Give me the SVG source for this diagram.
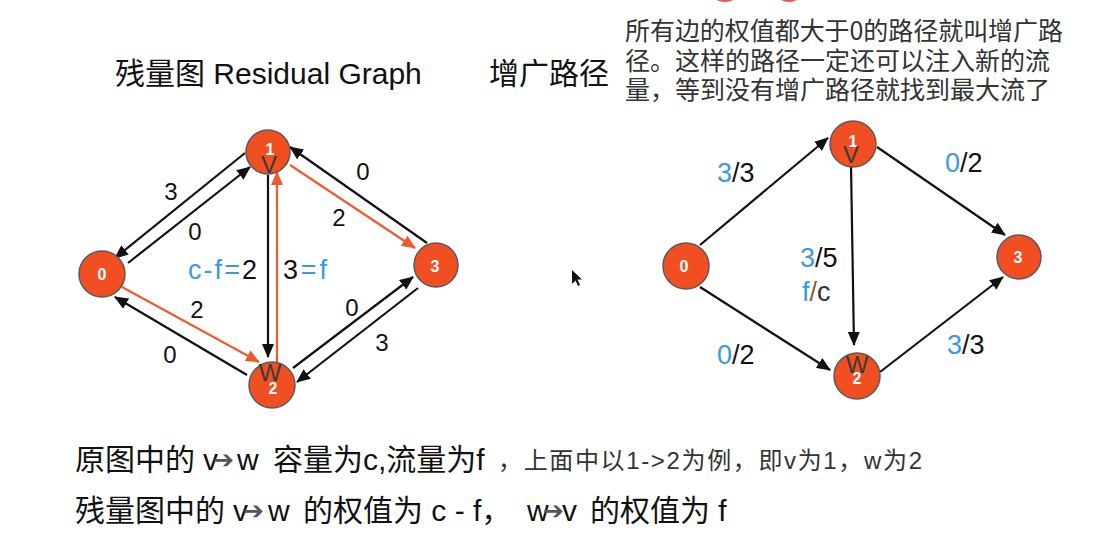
<svg xmlns="http://www.w3.org/2000/svg" width="1093" height="541" viewBox="0 0 1093 541">
<style>
.t{font-family:"Liberation Sans","Noto Sans CJK SC",sans-serif;fill:#111}
.cjk{font-family:"Liberation Sans","Noto Sans CJK SC",sans-serif;fill:#111}
.desc{font-family:"Noto Sans CJK SC",sans-serif;font-size:25px;fill:#333}
.lbl{font-family:"Liberation Sans",sans-serif;font-size:24px;fill:#111;text-anchor:middle}
.rl{font-family:"Liberation Sans",sans-serif;font-size:27px;fill:#111}
.blue{fill:#3b97e8}
.node{fill:#f14f22;stroke:#5a5a5a;stroke-width:1.5}
.nl{font-family:"Liberation Sans",sans-serif;font-size:16px;font-weight:bold;fill:#fff;text-anchor:middle}
.vw{font-family:"Liberation Sans",sans-serif;font-size:24px;fill:#3a3a3a;text-anchor:middle}
.e{stroke:#111;stroke-width:2.2;fill:none;marker-end:url(#ab)}
.o{stroke:#ef5a2c;stroke-width:2.2;fill:none;marker-end:url(#ao)}
.arr{font-family:"DejaVu Sans",sans-serif;font-size:25px;font-weight:bold;fill:#555}
</style>
<defs>
<marker id="ab" markerUnits="userSpaceOnUse" markerWidth="14" markerHeight="12" refX="13" refY="6" orient="auto"><path d="M0,0 L14,6 L0,12 z" fill="#111"/></marker>
<marker id="ao" markerUnits="userSpaceOnUse" markerWidth="14" markerHeight="12" refX="13" refY="6" orient="auto"><path d="M0,0 L14,6 L0,12 z" fill="#ef5a2c"/></marker>
</defs>
<rect width="1093" height="541" fill="#fff"/>
<ellipse cx="725" cy="-8" rx="14" ry="10" fill="#e05a4a"/>
<ellipse cx="789" cy="-8" rx="13" ry="10" fill="#e05a4a"/>

<text class="cjk" x="115" y="84" font-size="30">残量图 Residual Graph</text>
<text class="cjk" x="489" y="84" font-size="30">增广路径</text>
<text class="desc" x="625" y="40" textLength="438" lengthAdjust="spacing">所有边的权值都大于0的路径就叫增广路</text>
<text class="desc" x="625" y="70">径。这样的路径一定还可以注入新的流</text>
<text class="desc" x="625" y="99">量，等到没有增广路径就找到最大流了</text>

<g id="connectors">
<line class="e" x1="245" y1="153" x2="115" y2="258"/>
<line class="e" x1="128" y1="263" x2="250" y2="167"/>
<line class="o" x1="290" y1="165" x2="415" y2="248"/>
<line class="e" x1="427" y1="243" x2="290" y2="147"/>
<line class="e" x1="268" y1="175" x2="268" y2="357"/>
<line class="o" x1="277" y1="362" x2="277" y2="172"/>
<line class="o" x1="122" y1="287" x2="259" y2="362"/>
<line class="e" x1="247" y1="375" x2="115" y2="297"/>
<line class="e" x1="293" y1="368" x2="413" y2="277"/>
<line class="e" x1="418" y1="288" x2="297" y2="382"/>
<line class="e" x1="700" y1="245" x2="828" y2="138"/>
<line class="e" x1="877" y1="147" x2="1005" y2="235"/>
<line class="e" x1="851" y1="165" x2="854" y2="345"/>
<line class="e" x1="700" y1="287" x2="830" y2="370"/>
<line class="e" x1="880" y1="372" x2="1003" y2="277"/>
</g>

<g id="edge-labels-left">
<text class="lbl" x="171" y="200">3</text>
<text class="lbl" x="195" y="240">0</text>
<text class="lbl" x="363" y="180">0</text>
<text class="lbl" x="339" y="226">2</text>
<text class="lbl" x="197" y="318">2</text>
<text class="lbl" x="170" y="363">0</text>
<text class="lbl" x="352" y="316">0</text>
<text class="lbl" x="382" y="351">3</text>
<text class="t" x="188" y="279" font-size="27" textLength="69" lengthAdjust="spacing"><tspan class="blue">c-f=</tspan>2</text>
<text class="t" x="283" y="279" font-size="27" textLength="44" lengthAdjust="spacing">3<tspan class="blue">=f</tspan></text>
</g>

<g id="edge-labels-right">
<text class="rl" x="717" y="182"><tspan class="blue">3</tspan>/3</text>
<text class="rl" x="945" y="172"><tspan class="blue">0</tspan>/2</text>
<text class="rl" x="800" y="267"><tspan class="blue">3</tspan>/5</text>
<text class="rl" x="802" y="301"><tspan class="blue">f</tspan><tspan fill="#8a5a2a">/</tspan><tspan fill="#333">c</tspan></text>
<text class="rl" x="717" y="364"><tspan class="blue">0</tspan>/2</text>
<text class="rl" x="947" y="354"><tspan class="blue">3</tspan>/3</text>
</g>

<g id="L0"><circle class="node" cx="102" cy="274" r="23"/><text class="nl" x="102" y="280">0</text></g>
<g id="L1"><circle class="node" cx="268" cy="152" r="22"/><text class="nl" x="270" y="155">1</text><text class="vw" x="269" y="173">V</text></g>
<g id="L2"><circle class="node" cx="272" cy="385" r="23"/><text class="nl" x="273" y="394">2</text><text class="vw" x="270" y="381">W</text></g>
<g id="L3"><circle class="node" cx="436" cy="265" r="22"/><text class="nl" x="435" y="272">3</text></g>

<g id="R0"><circle class="node" cx="686" cy="266" r="23"/><text class="nl" x="684" y="272">0</text></g>
<g id="R1"><circle class="node" cx="853" cy="144" r="23"/><text class="nl" x="853" y="147">1</text><text class="vw" x="851" y="163">V</text></g>
<g id="R2"><circle class="node" cx="857" cy="376" r="23"/><text class="nl" x="857" y="384">2</text><text class="vw" x="857" y="373">W</text></g>
<g id="R3"><circle class="node" cx="1019" cy="257" r="22"/><text class="nl" x="1018" y="263">3</text></g>

<path d="M572,270 L572,284 L575.5,280.5 L578,286 L580,285 L577.5,279.5 L582,279.5 z" fill="#111"/>

<g id="bottom-text">
<text class="cjk" x="75" y="470" font-size="30">原图中的</text>
<text class="cjk" x="203" y="470" font-size="30">v</text>
<text class="arr" x="213" y="468">➔</text>
<text class="cjk" x="237" y="470" font-size="30">w</text>
<text class="cjk" x="273" y="470" font-size="30">容量为c,流量为f</text>
<text class="cjk" x="498" y="469" font-size="24" textLength="424" lengthAdjust="spacing" style="fill:#333">，上面中以1-&gt;2为例，即v为1，w为2</text>
<text class="cjk" x="75" y="521" font-size="30">残量图中的</text>
<text class="cjk" x="233" y="521" font-size="30">v</text>
<text class="arr" x="243" y="519">➔</text>
<text class="cjk" x="268" y="521" font-size="30">w</text>
<text class="cjk" x="303" y="521" font-size="30">的权值为 c - f，</text>
<text class="cjk" x="527" y="521" font-size="30">w</text>
<text class="arr" x="543" y="519">➔</text>
<text class="cjk" x="562" y="521" font-size="30">v</text>
<text class="cjk" x="590" y="521" font-size="30">的权值为 f</text>
</g>
</svg>
